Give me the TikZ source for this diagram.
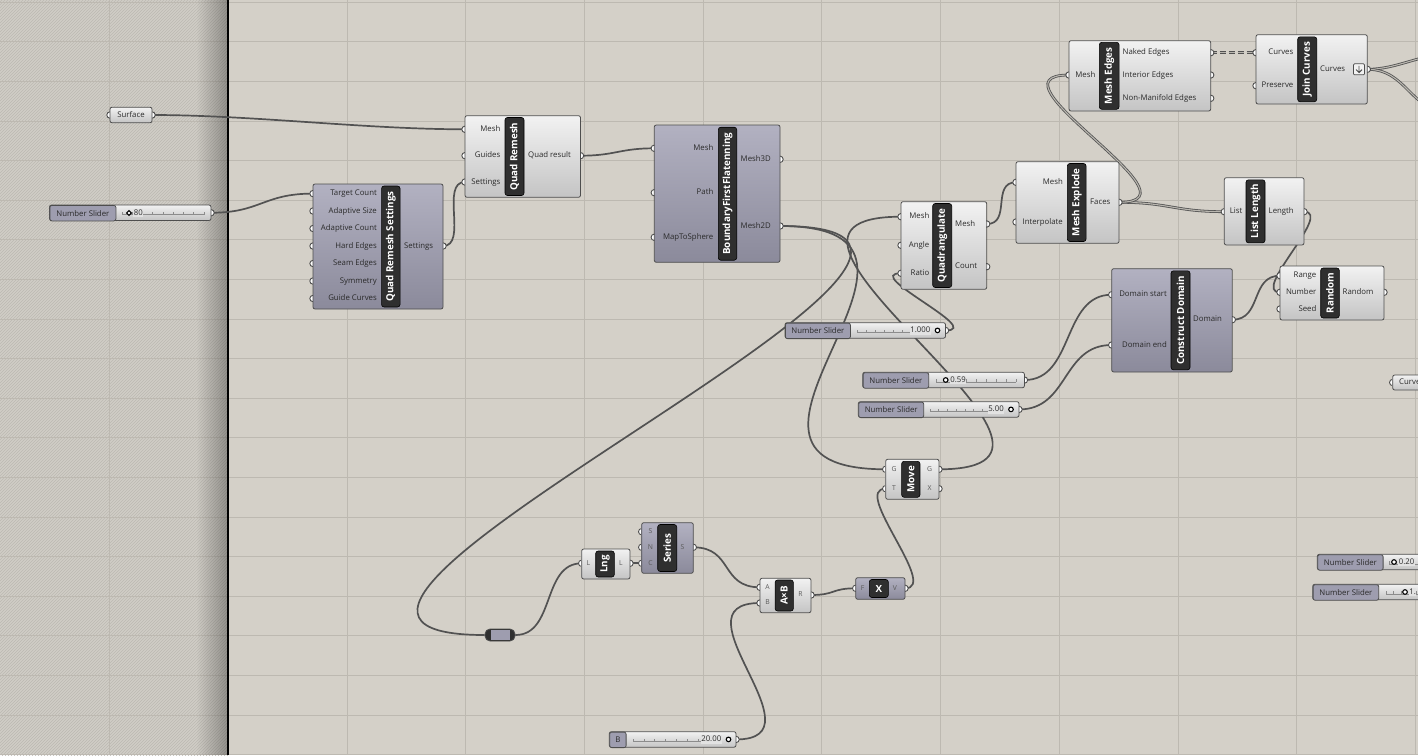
\documentclass[tikz,border=0pt]{standalone}
\usepackage{fontspec}
\setmainfont{Open Sans}
\usepackage{tikz}
\usetikzlibrary{
	patterns,
	fadings
}
\definecolor{canvas}{HTML}{D4D0C8}
\definecolor{gridc}{HTML}{BDB9B1}
\definecolor{hatchbg}{HTML}{D0CDC6}
\definecolor{hatchc}{HTML}{BCB9B2}
\definecolor{edge}{HTML}{4E4E4E}
\definecolor{compt}{HTML}{F2F2F2}
\definecolor{compb}{HTML}{C4C4C4}
\definecolor{purpt}{HTML}{B2B1C1}
\definecolor{purpb}{HTML}{8B8A9B}
\definecolor{slabc}{HTML}{9E9DAF}
\definecolor{slfill}{HTML}{E2E2E2}
\definecolor{tagc}{HTML}{2F2F2F}
\definecolor{labc}{HTML}{2A2A2A}
\definecolor{dimc}{HTML}{5A5A5A}
\definecolor{wirec}{HTML}{525252}
\definecolor{dblc}{HTML}{B9B6AF}
\definecolor{trackc}{HTML}{8C8C8C}
\newcommand{\labfont}{\fontsize{7.8}{9}\selectfont}
\newcommand{\dimfont}{\fontsize{6.8}{8}\selectfont}
\newcommand{\titlefont}{\fontsize{9.8}{11}\selectfont\bfseries}
\pgfdeclarelayer{grid}
\pgfdeclarelayer{wires}
\pgfdeclarelayer{pins}
\pgfsetlayers{grid,wires,pins,main}
\tikzfading[name=shadowfade, left color=transparent!100, right color=transparent!0]
\tikzset{
	gridline/.style={draw=gridc, line width=0.8pt},
	comp/.style={draw=edge, line width=0.8pt, rounded corners=2pt, top color=compt, bottom color=compb, anchor=north west, inner sep=0pt, outer sep=0pt},
	pcomp/.style={comp, top color=purpt, bottom color=purpb},
	slab/.style={draw=edge, line width=0.8pt, rounded corners=2pt, fill=slabc, anchor=north west, inner sep=0pt, font=\labfont, text=labc},
	tag/.style={fill=tagc, draw=black, line width=0.6pt, rounded corners=2.5pt, text=white, font=\titlefont, inner sep=0pt},
	vtag/.style={tag, rotate=90},
	pin/.style={circle, draw=edge, fill=white, line width=0.9pt, minimum size=6.4pt, inner sep=0pt},
	inlab/.style={anchor=east, font=\labfont, text=labc, inner sep=0pt, text height=5.6pt, text depth=1.6pt},
	outlab/.style={inlab, anchor=west},
	dimlab/.style={font=\dimfont, text=dimc, inner sep=0pt, text height=5pt, text depth=1.4pt},
	track/.style={draw=trackc, line width=0.6pt},
	knob/.style={circle, draw=black, fill=white, line width=1.1pt, minimum size=4.6pt, inner sep=0pt},
	val/.style={font=\labfont, text=labc, fill=slfill, inner sep=0.6pt, text height=5.6pt, text depth=1.6pt},
	wire/.style={draw=wirec, line width=1.7pt},
	listwire/.style={draw=wirec, line width=0.8pt, double=dblc, double distance=1.1pt}
}
\newcommand{\pinat}[2]{\begin{pgfonlayer}{pins}\node[pin] (#1) at (#2) {};\end{pgfonlayer}}
\newcommand{\numslider}[8]{%
	\node[comp, minimum width=#4, minimum height=15.5] (#1) at (#2,#3) {};
	\node[slab, minimum width=#5, minimum height=15.5] (#1-lab) at (#2,#3) {#6};
	\pinat{#1-out}{{#2+#4},{#3+7.75}}
	\draw[track] (#7,{#3+9.5}) -- (#8,{#3+9.5});
	\foreach \tx in {0,...,8}
		\draw[track] ({#7+(#8-#7)*\tx/8},{#3+9.5}) -- ++(0,-2.5);
}

\begin{document}
\begin{tikzpicture}[x=1pt,y=-1pt]
	\useasboundingbox (0,0) rectangle (1418,755);
	\begin{pgfonlayer}{grid}
		\fill[canvas] (0,0) rectangle (1418,755);
		\fill[hatchbg] (0,0) rectangle (228,755);
		\fill[pattern=north east lines, pattern color=hatchc] (0,0) rectangle (228,755);
		\foreach \k in {0,...,19}
			\draw[gridline] (0,{2.1+39.6*\k}) -- (1418,{2.1+39.6*\k});
		\foreach \k in {0,...,11}
			\draw[gridline] ({109.6+118.7*\k},0) -- ({109.6+118.7*\k},755);
		\fill[black, opacity=0.3, path fading=shadowfade] (196,0) rectangle (228,755);
		\draw[black, line width=1.4pt] (228,0) -- (228,755);
	\end{pgfonlayer}

	\node[comp, anchor=west, minimum width=42, minimum height=15.5, font=\labfont, text=labc] (srf) at (110,115) {Surface};
	\pinat{srf-in}{110,115}
	\pinat{srf-out}{152,115}

	\numslider{s80}{49.5}{205}{161.5}{66}{Number Slider}{122}{204}
	\draw[black, line width=1pt, fill=white] (129,210.6) -- (131.4,213) -- (129,215.4) -- (126.6,213) -- cycle;
	\node[val, anchor=west] at (133,213) {80};

	\node[pcomp, minimum width=130, minimum height=125] (qrs) at (313,184) {};
	\node[vtag, minimum width=121, minimum height=18.5] at (390.8,246.5) {Quad Remesh Settings};
	\foreach \p/\py/\t in {tc/193.6/Target Count, as/211/Adaptive Size, ac/228.5/Adaptive Count, he/246/Hard Edges, se/263.5/Seam Edges, sy/281/Symmetry, gc/298.5/Guide Curves}{
		\pinat{qrs-\p}{313,\py}
		\node[inlab] at (377,\py) {\t};
	}
	\pinat{qrs-set}{443,246}
	\node[outlab] at (404,246) {Settings};

	\node[comp, minimum width=115.5, minimum height=81.6] (qr) at (465,115.7) {};
	\node[vtag, minimum width=78, minimum height=19] at (514.5,156.5) {Quad Remesh};
	\foreach \p/\py/\t in {mesh/129.3/Mesh, gd/155.7/Guides, set/182/Settings}{
		\pinat{qr-\p}{465,\py}
		\node[inlab] at (500.5,\py) {\t};
	}
	\pinat{qr-out}{580.5,155.7}
	\node[outlab] at (528,155.7) {Quad result};

	\node[pcomp, minimum width=125.7, minimum height=137.3] (bff) at (654.3,125) {};
	\node[vtag, minimum width=133, minimum height=18.4] at (727.5,193.7) {BoundaryFirstFlatenning};
	\foreach \p/\py/\t in {mesh/148.3/Mesh, path/192.7/Path, mts/237.3/MapToSphere}{
		\pinat{bff-\p}{654.3,\py}
		\node[inlab] at (713.5,\py) {\t};
	}
	\foreach \p/\py/\t in {m3d/159.3/Mesh3D, m2d/226/Mesh2D}{
		\pinat{bff-\p}{780,\py}
		\node[outlab] at (740.5,\py) {\t};
	}

	\node[comp, minimum width=141.7, minimum height=70.3] (me) at (1069,40.7) {};
	\node[vtag, minimum width=67, minimum height=19.7] at (1109.2,75.8) {Mesh Edges};
	\pinat{me-mesh}{1069,75}
	\node[inlab] at (1095.5,75) {Mesh};
	\foreach \p/\py/\t in {naked/52.7/Naked Edges, inner/75/Interior Edges, nonman/98.3/Non-Manifold Edges}{
		\pinat{me-\p}{1210.7,\py}
		\node[outlab] at (1122.5,\py) {\t};
	}

	\node[comp, minimum width=111.3, minimum height=69.3] (jc) at (1256,34.7) {};
	\node[vtag, minimum width=65, minimum height=19] at (1307.2,69.3) {Join Curves};
	\foreach \p/\py/\t in {crv/52.7/Curves, pre/85.7/Preserve}{
		\pinat{jc-\p}{1256,\py}
		\node[inlab] at (1293.5,\py) {\t};
	}
	\pinat{jc-out}{1367.3,69.3}
	\node[outlab] at (1320,69.3) {Curves};
	\draw[edge, line width=0.7pt, fill=compt, rounded corners=1pt] (1353.5,63.8) rectangle (1364.5,74.8);
	\draw[edge, line width=0.9pt] (1359,65.8) -- (1359,72.6) (1356,69.6) -- (1359,72.6) -- (1362,69.6);

	\node[comp, minimum width=85.7, minimum height=87.6] (qd) at (901,201.7) {};
	\node[vtag, minimum width=84, minimum height=19] at (942.2,245.5) {Quadrangulate};
	\foreach \p/\py/\t in {mesh/216.7/Mesh, ang/245.3/Angle, ratio/273.3/Ratio}{
		\pinat{qd-\p}{901,\py}
		\node[inlab] at (929.5,\py) {\t};
	}
	\foreach \p/\py/\t in {mo/224/Mesh, cnt/266.7/Count}{
		\pinat{qd-\p}{986.7,\py}
		\node[outlab] at (955,\py) {\t};
	}

	\node[comp, minimum width=103, minimum height=81.6] (mx) at (1016,161.7) {};
	\node[vtag, minimum width=78, minimum height=18.7] at (1076.7,202.5) {Mesh Explode};
	\foreach \p/\py/\t in {mesh/182.3/Mesh, itp/222/Interpolate}{
		\pinat{mx-\p}{1016,\py}
		\node[inlab] at (1063,\py) {\t};
	}
	\pinat{mx-faces}{1119,202.3}
	\node[outlab] at (1090,202.3) {Faces};

	\node[comp, minimum width=79.7, minimum height=67.3] (ll) at (1224.3,177.7) {};
	\node[vtag, minimum width=63, minimum height=19] at (1255.5,211.3) {List Length};
	\pinat{ll-list}{1224.3,211.7}
	\node[inlab] at (1242.5,211.7) {List};
	\pinat{ll-len}{1304,211.7}
	\node[outlab] at (1268.5,211.7) {Length};

	\node[pcomp, minimum width=120.6, minimum height=103.3] (cd) at (1111.7,268.7) {};
	\node[vtag, minimum width=99, minimum height=19] at (1180.5,320.3) {Construct Domain};
	\foreach \p/\py/\t in {start/294.7/Domain start, end/345/Domain end}{
		\pinat{cd-\p}{1111.7,\py}
		\node[inlab] at (1167,\py) {\t};
	}
	\pinat{cd-dom}{1232.3,319.7}
	\node[outlab] at (1193,319.7) {Domain};

	\node[comp, minimum width=104, minimum height=54] (rn) at (1280,266) {};
	\node[vtag, minimum width=50, minimum height=18.6] at (1330,293) {Random};
	\foreach \p/\py/\t in {range/275.7/Range, num/292.3/Number, seed/309/Seed}{
		\pinat{rn-\p}{1280,\py}
		\node[inlab] at (1316.5,\py) {\t};
	}
	\pinat{rn-rnd}{1384,292.3}
	\node[outlab] at (1342.5,292.3) {Random};

	\node[comp, anchor=west, minimum width=60, minimum height=15] (crv) at (1392.7,382.5) {};
	\pinat{crv-in}{1392.7,382.5}
	\node[outlab] at (1399,382.5) {Curve};

	\numslider{s1}{785}{322.7}{160.5}{65}{Number Slider}{857}{930}
	\node[val, anchor=east] at (931,330.4) {1.000};
	\node[knob] at (937.5,330.4) {};

	\numslider{s059}{862.7}{372.3}{161.7}{65.6}{Number Slider}{936}{1016}
	\node[knob] at (945.7,380) {};
	\node[val, anchor=west] at (949.5,380) {0.59};

	\numslider{s5}{858.3}{401.7}{160.7}{65}{Number Slider}{930}{1000}
	\node[val, anchor=east] at (1004.5,409.4) {5.00};
	\node[knob] at (1011,409.4) {};

	\numslider{sb}{609.3}{731.7}{126.7}{16.4}{B}{633}{720}
	\node[val, anchor=east] at (722,739.4) {20.00};
	\node[knob] at (728.5,739.4) {};

	\numslider{s020}{1317.3}{554.3}{130}{65.4}{Number Slider}{1389}{1447}
	\node[knob] at (1394,562) {};
	\node[val, anchor=west] at (1398,562) {0.20};

	\numslider{s1b}{1312.7}{584.3}{130}{65.6}{Number Slider}{1386}{1447}
	\node[knob] at (1405,592) {};
	\node[val, anchor=west] at (1408.5,592) {1.};

	\node[comp, minimum width=53.3, minimum height=40] (mv) at (885.7,459.3) {};
	\node[vtag, minimum width=36, minimum height=18.3] at (910.8,479.3) {Move};
	\foreach \p/\py/\t in {g/469.3/G, t/488.7/T}{
		\pinat{mv-\p}{885.7,\py}
		\node[dimlab] at (894,\py) {\t};
	}
	\foreach \p/\py/\t in {go/469.3/G, x/488.7/X}{
		\pinat{mv-\p}{939,\py}
		\node[dimlab] at (929.5,\py) {\t};
	}

	\node[draw=edge, line width=0.8pt, fill=tagc, rounded corners=5pt, minimum width=30, minimum height=12, inner sep=0pt] (rly) at (500,635) {};
	\node[fill=slabc, minimum width=19, minimum height=9.2, inner sep=0pt] at (500,635) {};

	\node[comp, minimum width=48.3, minimum height=30] (ln) at (581.7,549) {};
	\node[vtag, minimum width=26, minimum height=18.6] at (605,564) {Lng};
	\pinat{ln-l}{581.7,563.3}
	\node[dimlab] at (588.5,563.3) {L};
	\pinat{ln-lo}{630,563.3}
	\node[dimlab] at (621,563.3) {L};

	\node[pcomp, minimum width=51.6, minimum height=50.6] (sr) at (641.7,522.7) {};
	\node[vtag, minimum width=47, minimum height=19] at (667.2,548) {Series};
	\foreach \p/\py/\t in {s/531.7/S, n/547.3/N, c/563.3/C}{
		\pinat{sr-\p}{641.7,\py}
		\node[dimlab] at (650.5,\py) {\t};
	}
	\pinat{sr-so}{693.3,547.3}
	\node[dimlab] at (682.5,547.3) {S};

	\node[comp, minimum width=51, minimum height=34.4] (ab) at (760,578.3) {};
	\node[vtag, minimum width=31, minimum height=18.3] at (784.2,595.5) {A×B};
	\foreach \p/\py/\t in {a/587.3/A, b/603/B}{
		\pinat{ab-\p}{760,\py}
		\node[dimlab] at (767.5,\py) {\t};
	}
	\pinat{ab-r}{811,595}
	\node[dimlab] at (800.5,595) {R};

	\node[pcomp, minimum width=49.3, minimum height=21.6] (xn) at (855.7,577.7) {};
	\node[tag, minimum width=19, minimum height=18] at (878.8,588.5) {X};
	\pinat{xn-f}{855.7,588.3}
	\node[dimlab] at (862.5,588.3) {F};
	\pinat{xn-v}{905,588.3}
	\node[dimlab] at (895,588.3) {V};

	\coordinate (far1) at (1450,54);
	\coordinate (far2) at (1450,112);

	\begin{pgfonlayer}{wires}
		\draw[wire] (srf-out.center) .. controls +(100,0) and +(-100,0) .. (qr-mesh.center);
		\draw[wire] (s80-out.center) .. controls +(50,0) and +(-50,0) .. (qrs-tc.center);
		\draw[wire] (qrs-set.center) .. controls +(25,0) and +(-25,0) .. (qr-set.center);
		\draw[wire] (qr-out.center) .. controls +(35,0) and +(-35,0) .. (bff-mesh.center);
		\draw[wire] (bff-m2d.center) .. controls +(215,0) and +(-215,0) .. (mv-g.center);
		\draw[wire] (bff-m2d.center) .. controls +(330,0) and +(-320,0) .. (rly.west);
		\draw[wire] (mv-go.center) .. controls +(200,0) and +(-200,0) .. (qd-mesh.center);
		\draw[wire] (s1-out.center) .. controls +(40,0) and +(-40,0) .. (qd-ratio.center);
		\draw[wire] (qd-mo.center) .. controls +(25,0) and +(-25,0) .. (mx-mesh.center);
		\draw[listwire] (mx-faces.center) .. controls +(50,0) and +(-50,0) .. (ll-list.center);
		\draw[listwire] (mx-faces.center) .. controls +(90,0) and +(-90,0) .. (me-mesh.center);
		\draw[listwire, dash pattern=on 6pt off 3pt] (me-naked.center) -- (jc-crv.center);
		\draw[listwire] (jc-out.center) .. controls +(30,0) and +(-30,0) .. (far1);
		\draw[listwire] (jc-out.center) .. controls +(40,0) and +(-40,0) .. (far2);
		\draw[wire] (ll-len.center) .. controls +(30,0) and +(-30,0) .. (rn-num.center);
		\draw[wire] (cd-dom.center) .. controls +(30,0) and +(-30,0) .. (rn-range.center);
		\draw[wire] (s059-out.center) .. controls +(50,0) and +(-50,0) .. (cd-start.center);
		\draw[wire] (s5-out.center) .. controls +(50,0) and +(-50,0) .. (cd-end.center);
		\draw[wire] (rly.east) .. controls +(40,0) and +(-40,0) .. (ln-l.center);
		\draw[wire] (ln-lo.center) -- (sr-c.center);
		\draw[wire] (sr-so.center) .. controls +(40,0) and +(-40,0) .. (ab-a.center);
		\draw[wire] (sb-out.center) .. controls +(90,0) and +(-90,0) .. (ab-b.center);
		\draw[wire] (ab-r.center) .. controls +(25,0) and +(-25,0) .. (xn-f.center);
		\draw[wire] (xn-v.center) .. controls +(35,0) and +(-35,0) .. (mv-t.center);
	\end{pgfonlayer}
\end{tikzpicture}
\end{document}
